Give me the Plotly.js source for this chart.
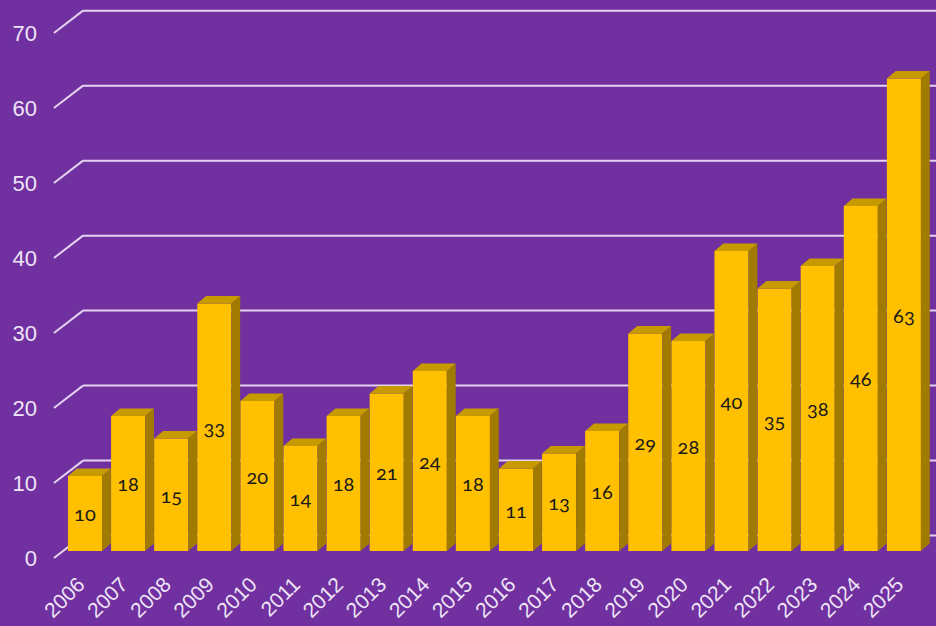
<!DOCTYPE html>
<html>
<head>
<meta charset="utf-8">
<script src="https://cdn.plot.ly/plotly-3.0.1.min.js"></script>
<style>
html,body{margin:0;padding:0;background:#7030A0;}
#chart{width:936px;height:626px;}
.bartext{font-variant-numeric:oldstyle-nums;font-feature-settings:"onum" 1;}
</style>
</head>
<body>
<div id="chart"></div>
<script>
const years = ["2006","2007","2008","2009","2010","2011","2012","2013","2014","2015","2016","2017","2018","2019","2020","2021","2022","2023","2024","2025"];
const values = [10,18,15,33,20,14,18,21,24,18,11,13,16,29,28,40,35,38,46,63];
const yTicks = [0,10,20,30,40,50,60,70];

// 3D look parameters (in axis units)
const barW = 0.79;
const depthX = 0.205;
const depthY = 1.0;
const frontOffset = -0.93;   // floor front plane (where y labels sit)
const backOffset = 2.05;     // back wall (where gridlines sit)
const gridFrontX = -0.72;
const gridBackX = -0.046;
const xMin = -1.044, xMax = 19.745;
const labelShift = -0.15;

const idx = years.map((_, i) => i);

const traces = [];
idx.forEach(i => {
  const v = values[i];
  const r = i + barW / 2, l = i - barW / 2;
  traces.push({
    type: 'scatter', mode: 'lines', fill: 'toself',
    x: [r, r + depthX, r + depthX, r, r],
    y: [0, depthY, v + depthY, v, 0],
    line: {width: 0, color: '#A07B00'}, fillcolor: '#A07B00',
    hoverinfo: 'skip', showlegend: false
  });
  traces.push({
    type: 'scatter', mode: 'lines', fill: 'toself',
    x: [l, r, r + depthX, l + depthX, l],
    y: [v, v, v + depthY, v + depthY, v],
    line: {width: 0, color: '#C79A00'}, fillcolor: '#C79A00',
    hoverinfo: 'skip', showlegend: false
  });
});
traces.unshift({
  type: 'bar', x: idx, y: values, width: barW,
  marker: {color: '#FFC000', line: {width: 0}},
  text: values.map(String), textposition: 'inside', insidetextanchor: 'middle',
  textangle: 0,
  textfont: {family: 'Lato, "Open Sans", sans-serif', size: 20, color: '#1a1a1a'},
  hoverinfo: 'skip', showlegend: false
});

const shapes = [];
yTicks.forEach(t => {
  shapes.push({type: 'line', layer: 'below', xref: 'x', yref: 'y',
    x0: gridFrontX, y0: t + frontOffset, x1: gridBackX, y1: t + backOffset,
    line: {color: '#E4D2F0', width: 2}});
  shapes.push({type: 'line', layer: 'below', xref: 'x', yref: 'y',
    x0: gridBackX, y0: t + backOffset, x1: xMax, y1: t + backOffset,
    line: {color: '#E4D2F0', width: 2}});
});

const layout = {
  width: 936, height: 626,
  margin: {l: 40, r: 0, t: 0, b: 61},
  paper_bgcolor: '#7030A0', plot_bgcolor: '#7030A0',
  showlegend: false,
  xaxis: {
    range: [xMin, xMax], tickmode: 'array', tickvals: idx.map(i => i + labelShift), ticktext: years,
    tickangle: -45, showgrid: false, zeroline: false, showline: false, ticks: '',
    ticklabelstandoff: 2,
    tickfont: {family: '"Liberation Sans", Arial, sans-serif', size: 21, color: '#EEE4F6'},
    fixedrange: true
  },
  yaxis: {
    range: [-1.87, 73.47], tickmode: 'array',
    tickvals: yTicks.map(t => t + frontOffset), ticktext: yTicks.map(String),
    showgrid: false, zeroline: false, showline: false, ticks: '',
    ticklabelstandoff: 2,
    tickfont: {family: '"Liberation Sans", Arial, sans-serif', size: 22, color: '#EEE4F6'},
    fixedrange: true
  },
  shapes: shapes
};

Plotly.newPlot('chart', traces, layout, {displayModeBar: false, staticPlot: true});
</script>
</body>
</html>
